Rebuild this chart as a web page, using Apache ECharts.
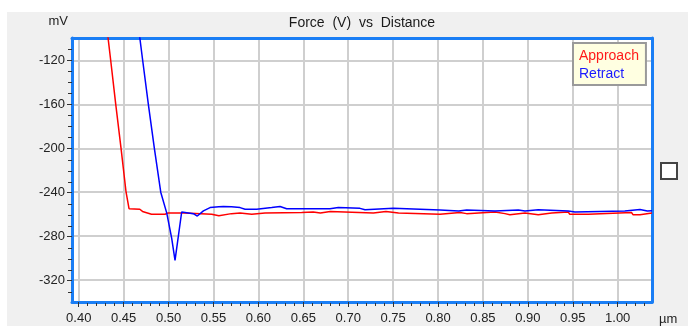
<!DOCTYPE html>
<html><head><meta charset="utf-8">
<script src="https://cdn.jsdelivr.net/npm/echarts@6/dist/echarts.min.js"></script>
<style>html,body{margin:0;padding:0;background:#fff}#c{width:688px;height:326px}</style>
</head><body><div id="c"></div>
<script>
const titleText = 'Force  (V)  vs  Distance';
const yUnit = 'mV';
const xUnit = 'µm';
const seriesNames = ['Approach', 'Retract'];

const xTicks = [0.40,0.45,0.50,0.55,0.60,0.65,0.70,0.75,0.80,0.85,0.90,0.95,1.00];
const xMinorTicks = [0.41,0.42,0.43,0.44,0.46,0.47,0.48,0.49,0.51,0.52,0.53,0.54,0.56,0.57,0.58,0.59,
  0.61,0.62,0.63,0.64,0.66,0.67,0.68,0.69,0.71,0.72,0.73,0.74,0.76,0.77,0.78,0.79,
  0.81,0.82,0.83,0.84,0.86,0.87,0.88,0.89,0.91,0.92,0.93,0.94,0.96,0.97,0.98,0.99,1.01,1.02,1.03];
const yTicks = [-320,-280,-240,-200,-160,-120];
const yMinorTicks = [-330,-310,-300,-290,-270,-260,-250,-230,-220,-210,-190,-180,-170,-150,-140,-130,-110];

const xMin = 0.3925, xMax = 1.0382;
const yMin = -340, yMax = -99.5;

const approachX = [0.4300,0.4356,0.4412,0.4471,0.4527,0.4560,0.4680,0.4710,0.4810,0.4960,0.4990,0.5180,0.5200,0.5480,0.5500,0.5560,0.5580,0.5700,0.5796,0.5810,0.5926,0.5940,0.6074,0.6090,0.6482,0.6500,0.6610,0.6630,0.6690,0.6705,0.6800,0.6816,0.7280,0.7295,0.7420,0.7440,0.7560,0.7580,0.8022,0.8040,0.8244,0.8260,0.8318,0.8335,0.8634,0.8650,0.8745,0.8760,0.8800,0.8815,0.8968,0.8985,0.9116,0.9130,0.9265,0.9280,0.9450,0.9465,0.9673,0.9690,1.0155,1.0170,1.0248,1.0263,1.0382];
const approachY = [-81,-120,-160,-200,-240,-255,-255.5,-257.5,-260,-260,-259,-259,-259.8,-260,-261.5,-261.5,-260,-259.5,-259,-260,-260,-259,-259,-258.5,-258.5,-258,-258,-259,-259,-257.5,-257.5,-259,-259,-257.5,-257.5,-259,-259,-260,-260,-258.5,-258.5,-259.5,-259.5,-258,-258,-259.5,-259.5,-260.5,-260.5,-259,-259,-260.5,-260.5,-259,-259,-258,-258,-260,-260,-258.5,-258.5,-260.5,-260.5,-259,-259];

const retractX = [0.4650,0.4712,0.4775,0.4842,0.4913,0.4980,0.5035,0.5072,0.5146,0.5276,0.5320,0.5388,0.5462,0.5560,0.5610,0.5700,0.5796,0.5852,0.5981,0.5995,0.6148,0.6160,0.6241,0.6255,0.6315,0.6797,0.6810,0.6890,0.6905,0.7131,0.7145,0.7187,0.7200,0.7502,0.7515,0.8022,0.8040,0.8230,0.8244,0.8319,0.8335,0.8634,0.8650,0.8894,0.8910,0.8968,0.8985,0.9116,0.9130,0.9450,0.9465,0.9524,0.9540,1.0080,1.0095,1.0248,1.0263,1.0330,1.0340,1.0382];
const retractY = [-80,-120,-160,-200,-240,-259,-282,-302,-258,-259.5,-261.7,-257,-254,-253.3,-253,-253.3,-254,-255.5,-255.5,-254,-254,-253,-253,-254,-255,-255,-254,-254,-254.7,-254.7,-255.9,-255.9,-254.7,-254.7,-256.2,-256.2,-257.1,-257.1,-256.2,-256.2,-257.1,-257.1,-256.2,-256.2,-257.1,-257.1,-256,-256,-257.1,-257.1,-258,-258,-257.1,-257.1,-255.8,-255.8,-257.1,-257.1,-256.3,-256.8];

const BLUE = '#1a7ef5';
const FONT = "'Liberation Sans', Arial, sans-serif";
const GRID = {left: 72, top: 38, width: 580, height: 265};

function pairs(xs, ys) { return xs.map((x, i) => [x, ys[i]]); }

const chart = echarts.init(document.getElementById('c'), null, {renderer: 'canvas'});
chart.setOption({
  animation: false,
  backgroundColor: '#ffffff',
  textStyle: {fontFamily: FONT},
  title: {
    text: titleText, left: 362, top: 16, padding: 0, textAlign: 'center',
    textStyle: {fontSize: 14, fontWeight: 'normal', color: '#1a1a1a', fontFamily: FONT}
  },
  legend: {
    data: [
      {name: seriesNames[0], textStyle: {color: '#ff1a1a'}},
      {name: seriesNames[1], textStyle: {color: '#1a1aff'}}
    ],
    orient: 'vertical', left: 573, top: 43,
    icon: 'none', itemWidth: 0, itemHeight: 14, itemGap: 4,
    padding: [6, 7, 4, 1],
    backgroundColor: '#ffffe1', borderColor: '#9a9a9a', borderWidth: 2, borderRadius: 0,
    selectedMode: false,
    textStyle: {fontSize: 14, fontFamily: FONT}
  },
  graphic: [
    {type: 'rect', left: 7, top: 12, z: -10, silent: true, shape: {width: 681, height: 314}, style: {fill: '#f0f0f0'}},
    {type: 'rect', left: 660, top: 162, z: 10, silent: true, shape: {width: 16, height: 16}, style: {fill: '#ffffff', stroke: '#444444', lineWidth: 2}}
  ],
  grid: [
    Object.assign({show: true, backgroundColor: '#ffffff', borderWidth: 0}, GRID),
    Object.assign({show: false}, GRID)
  ],
  xAxis: [
    {
      type: 'value', gridIndex: 0, position: 'bottom', min: xMin, max: xMax,
      name: xUnit, nameLocation: 'end', nameGap: 7,
      nameTextStyle: {fontSize: 13, color: '#222', verticalAlign: 'top', padding: [11, 0, 0, 0], fontFamily: FONT},
      axisLine: {show: true, lineStyle: {color: BLUE, width: 3}},
      axisTick: {show: true, customValues: xTicks, length: 5, lineStyle: {color: '#333', width: 1}},
      axisLabel: {show: true, customValues: xTicks, formatter: v => v.toFixed(2), fontSize: 13, color: '#222', margin: 10, fontFamily: FONT},
      splitLine: {show: true, lineStyle: {color: '#cfcfcf', width: 2}}
    },
    {
      type: 'value', gridIndex: 0, position: 'top', min: xMin, max: xMax,
      axisLine: {show: true, lineStyle: {color: BLUE, width: 3}},
      axisTick: {show: false}, axisLabel: {show: false}, splitLine: {show: false}
    },
    {
      type: 'value', gridIndex: 1, position: 'bottom', min: xMin, max: xMax,
      axisLine: {show: false},
      axisTick: {show: true, customValues: xMinorTicks, length: 3, lineStyle: {color: '#333', width: 1}},
      axisLabel: {show: false}, splitLine: {show: false}
    }
  ],
  yAxis: [
    {
      type: 'value', gridIndex: 0, position: 'left', min: yMin, max: yMax,
      name: yUnit, nameLocation: 'end', nameGap: 10,
      nameTextStyle: {fontSize: 13, color: '#222', align: 'right', padding: [0, 4, 0, 0], fontFamily: FONT},
      axisLine: {show: true, lineStyle: {color: BLUE, width: 3}},
      axisTick: {show: true, customValues: yTicks, length: 5, lineStyle: {color: '#333', width: 1}},
      axisLabel: {show: true, customValues: yTicks, fontSize: 13, color: '#222', margin: 7, fontFamily: FONT},
      splitLine: {show: true, lineStyle: {color: '#cfcfcf', width: 2}}
    },
    {
      type: 'value', gridIndex: 0, position: 'right', min: yMin, max: yMax,
      axisLine: {show: true, lineStyle: {color: BLUE, width: 3}},
      axisTick: {show: false}, axisLabel: {show: false}, splitLine: {show: false}
    },
    {
      type: 'value', gridIndex: 1, position: 'left', min: yMin, max: yMax,
      axisLine: {show: false},
      axisTick: {show: true, customValues: yMinorTicks, length: 4, lineStyle: {color: '#333', width: 1}},
      axisLabel: {show: false}, splitLine: {show: false}
    }
  ],
  series: [
    {
      name: seriesNames[0], type: 'line', xAxisIndex: 0, yAxisIndex: 0,
      data: pairs(approachX, approachY), showSymbol: false, symbol: 'none', clip: true,
      lineStyle: {color: '#ff0000', width: 1.5}, itemStyle: {color: '#ff0000'}
    },
    {
      name: seriesNames[1], type: 'line', xAxisIndex: 0, yAxisIndex: 0,
      data: pairs(retractX, retractY), showSymbol: false, symbol: 'none', clip: true,
      lineStyle: {color: '#0000ff', width: 1.5}, itemStyle: {color: '#0000ff'}
    }
  ]
});
</script>
</body></html>
